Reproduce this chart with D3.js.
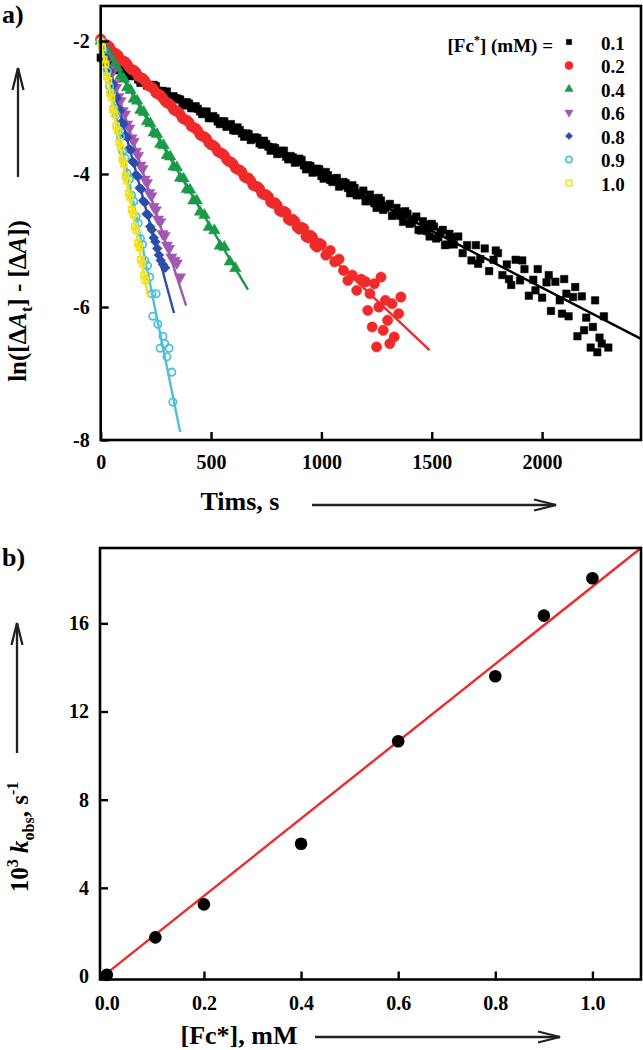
<!DOCTYPE html>
<html><head><meta charset="utf-8">
<script src="https://cdn.jsdelivr.net/npm/d3@7"></script>
<style>body{margin:0;background:#fff}svg{display:block}</style>
</head><body>
<script>
// ---------- Panel a data ----------
const concLabels = ["0.1","0.2","0.4","0.6","0.8","0.9","1.0"];
const seriesColors = ["#000000","#ee2a2a","#1a9a48","#a158b0","#2c4ea6","#4fc0dc","#f2e21c"];
const xTicksA = [0,500,1000,1500,2000];
const yTicksA = [-8,-6,-4,-2];

const t01 = [0,20,40,60,80,100,120,140,160,180,200,220,240,260,280,300,320,340,360,380,400,420,440,460,480,500,520,540,560,580,600,620,640,660,680,700,720,740,760,780,800,820,840,860,880,900,920,940,960,980,1000,1020,1040,1060,1080,1100,1120,1140,1160,1180,1200,1220,1240,1260,1280,1300,1320,1340,1360,1380,1400,1420,1440,1460,1480,1500,1520,1540,1560,1580,1600,1620,1640,1660,1680,1700,1720,1740,1760,1780,1800,1820,1840,1860,1880,1900,1920,1940,1960,1980,2000,2020,2040,2060,2080,2100,2120,2140,2160,2180,2200,2220,2240,2260,2280,2300,
  10,30,50,70,90,110,130,150,170,190,210,230,250,270,290,310,330,350,370,390,410,430,450,470,490,510,530,550,570,590,610,630,650,670,690,710,730,750,770,790,810,830,850,870,890,910,930,950,970,990,1010,1030,1050,1070,1090,1110,1130,1150,1170,1190,1210,1230,1250,1270,1290,1310,1330,1350,1370,1390,1410,1430,1450,1470,1490,1510,1530,1550,1570,1590,
  1710,1790,1850,1910,1970,2030,2090,2110,2150,2190,2230,2250,2270];
const v01 = [-2.25,-2.32,-2.33,-2.41,-2.41,-2.41,-2.51,-2.52,-2.53,-2.63,-2.60,-2.67,-2.66,-2.75,-2.75,-2.76,-2.86,-2.86,-2.88,-2.97,-2.94,-3.01,-3.02,-3.10,-3.06,-3.16,-3.16,-3.25,-3.21,-3.28,-3.34,-3.30,-3.39,-3.39,-3.49,-3.45,-3.54,-3.50,-3.59,-3.60,-3.70,-3.65,-3.74,-3.73,-3.83,-3.77,-3.87,-3.87,-3.98,-3.92,-4.03,-3.97,-4.09,-4.07,-4.19,-4.12,-4.21,-4.17,-4.32,-4.29,-4.41,-4.31,-4.44,-4.36,-4.54,-4.48,-4.63,-4.51,-4.63,-4.56,-4.75,-4.68,-4.84,-4.71,-4.86,-4.75,-4.97,-4.87,-5.07,-4.90,-5.06,-4.94,-5.19,-5.07,-5.30,-5.07,-5.28,-5.12,-5.46,-5.29,-5.19,-5.52,-5.36,-5.67,-5.29,-5.60,-5.43,-5.83,-5.59,-5.43,-5.86,-5.63,-6.06,-5.62,-5.90,-5.58,-6.14,-5.85,-6.44,-5.84,-6.16,-6.61,-5.90,-6.46,-6.14,-6.61,
  -2.27,-2.35,-2.36,-2.44,-2.41,-2.47,-2.53,-2.50,-2.58,-2.59,-2.67,-2.67,-2.68,-2.76,-2.78,-2.85,-2.83,-2.87,-2.94,-2.92,-3.01,-2.98,-3.06,-3.07,-3.16,-3.13,-3.21,-3.21,-3.29,-3.25,-3.35,-3.34,-3.44,-3.40,-3.47,-3.46,-3.56,-3.55,-3.65,-3.61,-3.69,-3.65,-3.78,-3.75,-3.82,-3.79,-3.93,-3.88,-3.97,-3.93,-4.07,-4.02,-4.12,-4.06,-4.17,-4.14,-4.29,-4.21,-4.32,-4.25,-4.41,-4.37,-4.51,-4.40,-4.51,-4.45,-4.62,-4.57,-4.72,-4.60,-4.73,-4.64,-4.85,-4.76,-4.94,-4.79,-4.95,-4.84,-5.06,-4.95,
  -5.35,-5.15,-5.58,-5.30,-5.75,-5.52,-6.10,-5.80,-5.70,-6.35,-6.30,-6.68,-6.55];

const t02 = [0,20,40,60,80,100,120,140,160,180,200,220,240,260,280,300,320,340,360,380,400,420,440,460,480,500,520,540,560,580,600,620,640,660,680,700,720,740,760,780,800,820,840,860,880,900,920,940,960,980,1000,1020,1040,1060,1080,1100,1120,1140,1160,1180,1200,1210,1220,1230,1240,1250,1260,1270,1280,1290,1300,1310,1320,1330,1350,1360,
  10,30,50,70,90,110,130,150,170,190,210,230,250,270,290,310,330,350,370,390,410,430,450,470,490,510,530,550,570,590,610,630,650,670,690,710,730,750,770,790,810,830,850,870,890,910,930,950,970,990];
const v02 = [-1.97,-2.05,-2.09,-2.18,-2.22,-2.30,-2.35,-2.43,-2.47,-2.55,-2.60,-2.68,-2.72,-2.80,-2.85,-2.93,-2.97,-3.05,-3.10,-3.18,-3.22,-3.30,-3.35,-3.43,-3.47,-3.56,-3.60,-3.68,-3.72,-3.81,-3.85,-3.93,-3.97,-4.06,-4.10,-4.18,-4.22,-4.31,-4.34,-4.44,-4.47,-4.57,-4.58,-4.70,-4.71,-4.83,-4.82,-4.96,-4.95,-5.10,-5.06,-5.22,-5.15,-5.32,-5.28,-5.45,-5.60,-5.52,-5.75,-5.58,-5.62,-6.05,-5.80,-6.30,-5.65,-6.60,-6.00,-5.55,-6.35,-5.90,-6.20,-6.55,-5.95,-6.45,-6.10,-5.85,
  -2.03,-2.06,-2.15,-2.19,-2.28,-2.31,-2.40,-2.44,-2.53,-2.56,-2.65,-2.69,-2.78,-2.81,-2.90,-2.94,-3.03,-3.06,-3.16,-3.19,-3.28,-3.31,-3.41,-3.44,-3.53,-3.57,-3.66,-3.69,-3.78,-3.82,-3.91,-3.94,-4.04,-4.06,-4.17,-4.19,-4.29,-4.31,-4.42,-4.43,-4.55,-4.56,-4.68,-4.68,-4.80,-4.80,-4.94,-4.92,-5.07,-5.04];

const t04 = [0,15,30,45,60,75,90,105,120,135,150,165,180,195,210,225,240,255,270,285,300,315,330,345,360,375,390,405,420,435,450,470,490,515,540,560,585,610];
const v04 = [-2.00,-2.06,-2.19,-2.23,-2.36,-2.40,-2.53,-2.57,-2.70,-2.74,-2.87,-2.90,-3.04,-3.07,-3.21,-3.24,-3.38,-3.40,-3.55,-3.57,-3.72,-3.74,-3.89,-3.90,-4.06,-4.07,-4.23,-4.24,-4.40,-4.40,-4.57,-4.62,-4.80,-4.85,-5.08,-5.10,-5.32,-5.42];

const t06 = [0,10,20,30,40,50,60,70,80,90,100,110,120,130,140,150,160,170,180,190,200,210,220,230,240,250,260,270,280,290,300,310,320,335,345,360];
const v06 = [-2.02,-2.08,-2.23,-2.29,-2.43,-2.49,-2.64,-2.70,-2.84,-2.90,-3.05,-3.10,-3.25,-3.31,-3.46,-3.51,-3.66,-3.72,-3.87,-3.92,-4.08,-4.13,-4.28,-4.33,-4.49,-4.54,-4.68,-4.72,-4.90,-4.93,-5.07,-5.12,-5.25,-5.30,-5.34,-5.55];

const t08 = [0,8,16,24,32,40,48,56,64,72,80,88,96,104,112,120,128,136,144,152,160,168,176,184,192,200,208,216,224,232,240,248,256,264,272,282,292];
const v08 = [-2.01,-2.07,-2.23,-2.27,-2.43,-2.46,-2.62,-2.66,-2.82,-2.86,-3.02,-3.05,-3.22,-3.25,-3.42,-3.45,-3.62,-3.64,-3.81,-3.84,-4.01,-4.04,-4.21,-4.23,-4.40,-4.43,-4.60,-4.62,-4.79,-4.84,-4.96,-5.02,-5.12,-5.22,-5.30,-5.36,-5.41];

const t09 = [0,10,20,30,40,50,60,70,80,90,100,110,120,130,140,150,160,170,180,190,200,212,222,232,251,236,259,282,290,269,310,300,322,327];
const v09 = [-2.00,-2.14,-2.35,-2.46,-2.68,-2.79,-3.01,-3.11,-3.34,-3.44,-3.66,-3.76,-3.99,-4.08,-4.32,-4.41,-4.64,-4.74,-4.97,-5.06,-5.30,-5.38,-5.55,-5.80,-5.80,-6.14,-6.26,-6.44,-6.55,-6.62,-6.62,-6.75,-6.98,-7.43];

const t10 = [0,7,14,21,28,35,42,49,56,63,70,77,84,91,98,105,112,119,126,133,140,147,154,161,168,175,182,189,196,203];
const v10 = [-2.02,-2.10,-2.28,-2.35,-2.53,-2.60,-2.78,-2.85,-3.03,-3.10,-3.28,-3.35,-3.53,-3.60,-3.78,-3.85,-4.03,-4.10,-4.29,-4.35,-4.54,-4.60,-4.79,-4.85,-5.04,-5.10,-5.29,-5.35,-5.52,-5.60];

// fitted lines (start/end points)
const fitStartT = [0,0,0,0,0,0,0];
const fitStartV = [-2.28,-1.98,-2.0,-2.0,-2.0,-2.0,-2.0];
const fitEndT = [2448,1490,667,387,332,360,215];
const fitEndV = [-6.48,-6.65,-5.74,-5.98,-6.09,-7.88,-5.85];

// ---------- Panel b data ----------
const concB = [0.0,0.1,0.2,0.4,0.6,0.8,0.9,1.0];
const kobsB = [0.05,1.75,3.25,6.0,10.65,13.6,16.35,18.05];
const fitBX = [-0.014,1.1];
const fitBY = [-0.12,19.42];
const xTicksB = [0.0,0.2,0.4,0.6,0.8,1.0];
const yTicksB = [0,4,8,12,16];

const seriesT = [t01,t02,t04,t06,t08,t09,t10];
const seriesV = [v01,v02,v04,v06,v08,v09,v10];

const FONT = "'Liberation Serif','Times New Roman',serif";
const svg = d3.select("body").append("svg").attr("width",643).attr("height",1050)
  .style("font-family",FONT).style("font-weight","bold");

const symDefs = [
  {type:d3.symbolSquare, size:56, legSize:28, fill:true, rot:0},
  {type:d3.symbolCircle, size:84, legSize:50, fill:true, rot:0},
  {type:d3.symbolTriangle, size:58, legSize:30, fill:true, rot:0},
  {type:d3.symbolTriangle, size:54, legSize:30, fill:true, rot:180},
  {type:d3.symbolSquare, size:48, legSize:26, fill:true, rot:45},
  {type:d3.symbolCircle, size:42, legSize:30, fill:false, rot:0},
  {type:d3.symbolSquare, size:34, legSize:30, fill:false, rot:0}
];

// ---------------- Panel a ----------------
const xA = d3.scaleLinear().domain([0,2448]).range([100.7,641]);
const yA = d3.scaleLinear().domain([-8,-1.474]).range([440,6]);

const gA = svg.append("g");
const plotA = gA.append("g");

seriesT.forEach((ts,i)=>{
  const sd = symDefs[i];
  const col = seriesColors[i];
  const gen = d3.symbol().type(sd.type).size(sd.size);
  plotA.append("g").selectAll("path").data(ts.map((t,j)=>[t,seriesV[i][j]])).join("path")
    .attr("d",gen)
    .attr("transform",d=>`translate(${xA(d[0])},${yA(d[1])}) rotate(${sd.rot})`)
    .attr("fill",sd.fill?col:"none")
    .attr("stroke",col)
    .attr("stroke-width",sd.fill?0.5:1.8);
  plotA.append("line")
    .attr("x1",xA(fitStartT[i])).attr("y1",yA(fitStartV[i]))
    .attr("x2",xA(fitEndT[i])).attr("y2",yA(fitEndV[i]))
    .attr("stroke",col).attr("stroke-width",2.4);
});

function styleAxis(g){
  g.select(".domain").remove();
  g.selectAll(".tick line").attr("stroke","#000").attr("stroke-width",2.4);
  g.selectAll(".tick text").attr("fill","#000").style("font-family",FONT)
    .style("font-weight","bold").style("font-size","20px");
}

gA.append("g").attr("transform","translate(0,440)")
  .call(d3.axisBottom(xA).tickValues(xTicksA).tickSizeInner(-8).tickSizeOuter(0).tickPadding(15).tickFormat(d3.format("d")))
  .call(styleAxis);
gA.append("g").attr("transform","translate(100.7,0)")
  .call(d3.axisLeft(yA).tickValues(yTicksA).tickSizeInner(-8).tickSizeOuter(0).tickPadding(11).tickFormat(d=>String(d)))
  .call(styleAxis);

gA.append("rect").attr("x",100.7).attr("y",6).attr("width",540.3).attr("height",434)
  .attr("fill","none").attr("stroke","#000").attr("stroke-width",2.6);

// legend
const leg = gA.append("g");
const legTitle = leg.append("text").attr("x",553).attr("y",51.5).attr("text-anchor","end")
  .style("font-size","19px");
legTitle.append("tspan").text("[Fc");
legTitle.append("tspan").attr("dy",-8).style("font-size","12px").text("*");
legTitle.append("tspan").attr("dy",8).text("] (mM) =");
concLabels.forEach((c,i)=>{
  const sd = symDefs[i];
  const cy = 42 + 23.5*i;
  leg.append("path").attr("d",d3.symbol().type(sd.type).size(sd.legSize)())
    .attr("transform",`translate(569,${cy}) rotate(${sd.rot})`)
    .attr("fill",sd.fill?seriesColors[i]:"none").attr("stroke",seriesColors[i])
    .attr("stroke-width",sd.fill?0.5:1.6);
  leg.append("text").attr("x",601).attr("y",49.5+23.5*i).style("font-size","19px").text(c);
});

// axis titles a
const yl = gA.append("text").attr("transform","translate(26,301) rotate(-90)")
  .attr("text-anchor","middle").style("font-size","25px");
yl.append("tspan").text("ln([\u0394");
yl.append("tspan").style("font-style","italic").text("A");
yl.append("tspan").attr("dy",6).style("font-size","16px").text("t");
yl.append("tspan").attr("dy",-6).text("] - [\u0394");
yl.append("tspan").style("font-style","italic").text("A");
yl.append("tspan").text("])");

gA.append("text").attr("x",240).attr("y",510).attr("text-anchor","middle").style("font-size","26px").text("Tims, s");
gA.append("text").attr("x",2).attr("y",23).style("font-size","26px").text("a)");

function arrow(g,x1,y1,x2,y2){
  g.append("line").attr("x1",x1).attr("y1",y1).attr("x2",x2).attr("y2",y2)
    .attr("stroke","#222").attr("stroke-width",2.3);
  const ang = Math.atan2(y2-y1,x2-x1);
  const L=22, W=5.5;
  const bx = x2 - L*Math.cos(ang), by = y2 - L*Math.sin(ang);
  const px = -Math.sin(ang)*W, py = Math.cos(ang)*W;
  g.append("path").attr("d",`M${bx+px},${by+py}L${x2},${y2}L${bx-px},${by-py}`)
    .attr("fill","none").attr("stroke","#222").attr("stroke-width",2.3);
}
arrow(gA,18,177,18,68);
arrow(gA,312,505,556,505);

// ---------------- Panel b ----------------
const xB = d3.scaleLinear().domain([-0.014,1.1]).range([100,641]);
const yB = d3.scaleLinear().domain([-0.16,19.42]).range([979.5,548]);
const gB = svg.append("g");

gB.append("line").attr("x1",xB(fitBX[0])).attr("y1",yB(fitBY[0]))
  .attr("x2",xB(fitBX[1])).attr("y2",yB(fitBY[1]))
  .attr("stroke","#ee2a2a").attr("stroke-width",2.4);
gB.append("g").selectAll("circle").data(concB.map((c,i)=>[c,kobsB[i]])).join("circle")
  .attr("cx",d=>xB(d[0])).attr("cy",d=>yB(d[1])).attr("r",6.3).attr("fill","#000");

gB.append("g").attr("transform","translate(0,979.5)")
  .call(d3.axisBottom(xB).tickValues(xTicksB).tickSizeInner(-8).tickSizeOuter(0).tickPadding(16).tickFormat(d3.format(".1f")))
  .call(styleAxis);
gB.append("g").attr("transform","translate(100,0)")
  .call(d3.axisLeft(yB).tickValues(yTicksB).tickSizeInner(-8).tickSizeOuter(0).tickPadding(11).tickFormat(d3.format("d")))
  .call(styleAxis);

gB.append("rect").attr("x",100).attr("y",548).attr("width",541).attr("height",431.5)
  .attr("fill","none").attr("stroke","#000").attr("stroke-width",2.6);

const ylb = gB.append("text").attr("transform","translate(28,837) rotate(-90)")
  .attr("text-anchor","middle").style("font-size","25px");
ylb.append("tspan").text("10");
ylb.append("tspan").attr("dy",-10).style("font-size","16px").text("3");
ylb.append("tspan").attr("dy",10).text(" ");
ylb.append("tspan").style("font-style","italic").text("k");
ylb.append("tspan").attr("dy",6).style("font-size","16px").text("obs");
ylb.append("tspan").attr("dy",-6).text(", s");
ylb.append("tspan").attr("dy",-10).style("font-size","16px").text("-1");

gB.append("text").attr("x",239).attr("y",1044).attr("text-anchor","middle").style("font-size","26px").text("[Fc*], mM");
gB.append("text").attr("x",2).attr("y",566).style("font-size","26px").text("b)");
arrow(gB,17,753,17,623);
arrow(gB,315,1037,560,1037);
</script>
</body></html>
